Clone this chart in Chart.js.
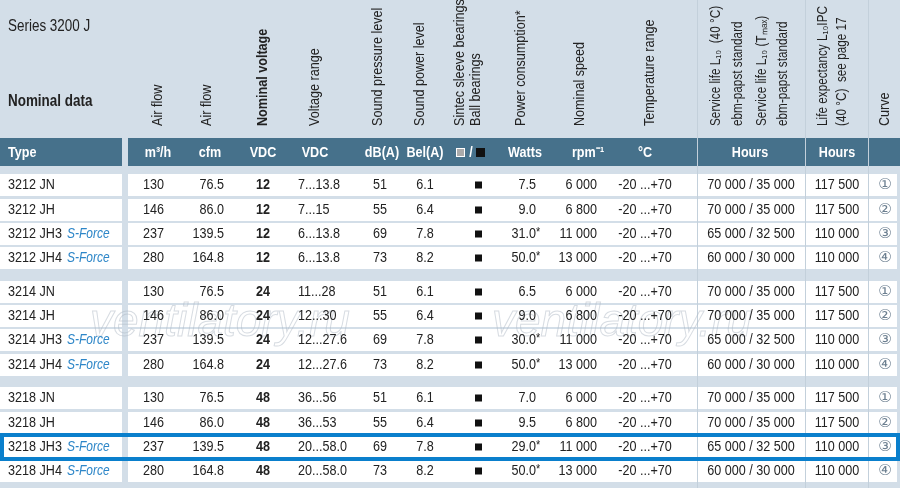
<!DOCTYPE html>
<html><head><meta charset="utf-8">
<script src="https://cdn.jsdelivr.net/npm/chart.js@4"></script>
<style>html,body{margin:0;padding:0;background:#d3dee8;}canvas{display:block}</style>
</head><body>
<canvas id="c" width="900" height="488"></canvas>
<script>
const types = ["3212 JN","3212 JH","3212 JH3","3212 JH4","3214 JN","3214 JH","3214 JH3","3214 JH4","3218 JN","3218 JH","3218 JH3","3218 JH4"];
const sForce = [false,false,true,true,false,false,true,true,false,false,true,true];
const airM3h = [130,146,237,280,130,146,237,280,130,146,237,280];
const airCfm = ["76.5","86.0","139.5","164.8","76.5","86.0","139.5","164.8","76.5","86.0","139.5","164.8"];
const nominalV = [12,12,12,12,24,24,24,24,48,48,48,48];
const voltRange = ["7...13.8","7...15","6...13.8","6...13.8","11...28","12...30","12...27.6","12...27.6","36...56","36...53","20...58.0","20...58.0"];
const dBA = [51,55,69,73,51,55,69,73,51,55,69,73];
const belA = ["6.1","6.4","7.8","8.2","6.1","6.4","7.8","8.2","6.1","6.4","7.8","8.2"];
const watts = ["7.5","9.0","31.0*","50.0*","6.5","9.0","30.0*","50.0*","7.0","9.5","29.0*","50.0*"];
const rpm = ["6 000","6 800","11 000","13 000","6 000","6 800","11 000","13 000","6 000","6 800","11 000","13 000"];
const tempRange = Array(12).fill("-20 ...+70");
const serviceLife = ["70 000 / 35 000","70 000 / 35 000","65 000 / 32 500","60 000 / 30 000","70 000 / 35 000","70 000 / 35 000","65 000 / 32 500","60 000 / 30 000","70 000 / 35 000","70 000 / 35 000","65 000 / 32 500","60 000 / 30 000"];
const lifeExp = ["117 500","117 500","110 000","110 000","117 500","117 500","110 000","110 000","117 500","117 500","110 000","110 000"];
const curve = ["①","②","③","④","①","②","③","④","①","②","③","④"];
const rowY = [185,210,234,258,292,316,340,365,398,423,447,471];
const highlightRow = 10;

const F = '"Liberation Sans",Arial,sans-serif';
const K = 0.84;
function txt(c,t,x,y,align,font,color,k){
  k=k||K; c.save(); c.font=font; c.textAlign='left'; c.textBaseline='middle'; if(color)c.fillStyle=color;
  const w=c.measureText(String(t)).width*k;
  const lx = align==='center'?x-w/2:align==='right'?x-w:x;
  c.translate(lx,y); c.scale(k,1); c.fillText(String(t),0,0); c.restore(); return w;
}
const plugin = {
  id:'tbl',
  afterDraw(ch){
    const c = ch.ctx, xs = ch.scales.x, ys = ch.scales.y;
    const X = v=>xs.getPixelForValue(v), Y = v=>ys.getPixelForValue(v);
    c.save();
    c.fillStyle='#d3dee8'; c.fillRect(X(0),Y(0),X(900)-X(0),Y(488)-Y(0));
    c.fillStyle='#46718b';
    c.fillRect(X(0),Y(138),X(122)-X(0),Y(166)-Y(138));
    c.fillRect(X(128),Y(138),X(900)-X(128),Y(166)-Y(138));
    c.fillStyle='#ffffff';
    rowY.forEach(r=>{
      c.fillRect(X(0),Y(r-11),X(122)-X(0),Y(r+11)-Y(r-11));
      c.fillRect(X(128),Y(r-11),X(897)-X(128),Y(r+11)-Y(r-11));
    });
    c.strokeStyle='#c3d0db'; c.lineWidth=1;
    [697,805,868].forEach(x=>{c.beginPath();c.moveTo(X(x)+0.5,Y(0));c.lineTo(X(x)+0.5,Y(488));c.stroke();});
    // watermark
    c.save(); c.font='italic 46px '+F; c.strokeStyle='rgba(175,186,197,0.5)'; c.lineWidth=1; c.textBaseline='alphabetic';
    c.strokeText('ventilatory.ru',X(90),Y(336)); c.strokeText('ventilatory.ru',X(492),Y(336)); c.restore();
    c.fillStyle='#222';
    txt(c,'Series 3200 J',X(8),Y(27),'left','16px '+F,'#222');
    txt(c,'Nominal data',X(8),Y(102),'left','bold 16px '+F,'#222');
    const rot=(t,x,bold,size)=>{c.save();c.translate(X(x),Y(126));c.rotate(-Math.PI/2);txt(c,t,0,0,'left',(bold?'bold ':'')+(size||15)+'px '+F,'#222');c.restore();};
    rot('Air flow',158);rot('Air flow',207);rot('Nominal voltage',263,true);rot('Voltage range',315);
    rot('Sound pressure level',378);rot('Sound power level',420);rot('Sintec sleeve bearings',460);rot('Ball bearings',476);
    rot('Power consumption*',521);rot('Nominal speed',580);rot('Temperature range',650);
    rot('Service life L₁₀  (40 °C)',716,false,14);rot('ebm-papst standard',738,false,14);
    rot('Service life L₁₀ (Tₘₐₓ)',762,false,14);rot('ebm-papst standard',783,false,14);
    rot('Life expectancy L₁₀IPC',823,false,14);rot('(40 °C)  see page 17',842,false,14);rot('Curve',885);
    const hy=Y(153), hf='bold 15px '+F;
    txt(c,'Type',X(8),hy,'left',hf,'#fff');
    [['m³/h',158],['cfm',210],['VDC',263],['VDC',315],['dB(A)',382],['Bel(A)',425],['Watts',525],['rpm⁻¹',588],['°C',645],['Hours',750],['Hours',837]].forEach(([t,x])=>txt(c,t,X(x),hy,'center',hf,'#fff'));
    c.fillStyle='#aaa'; c.fillRect(X(456),Y(148),X(465)-X(456),Y(157)-Y(148));
    c.strokeStyle='#fff'; c.lineWidth=1; c.strokeRect(X(456)+0.5,Y(148)+0.5,X(465)-X(456)-1,Y(157)-Y(148)-1);
    txt(c,'/',X(471),hy,'center',hf,'#fff');
    c.fillStyle='#111'; c.fillRect(X(476),Y(148),X(485)-X(476),Y(157)-Y(148));
    const bf='15px '+F, col='#222';
    rowY.forEach((r,i)=>{
      const y=Y(r);
      const w=txt(c,types[i],X(8),y,'left',bf,col);
      if(sForce[i]) txt(c,'S-Force',X(8)+w+5,y,'left','italic 15px '+F,'#2d86c8',0.8);
      txt(c,airM3h[i],X(164),y,'right',bf,col); txt(c,airCfm[i],X(224),y,'right',bf,col);
      txt(c,nominalV[i],X(263),y,'center','bold 15px '+F,col);
      txt(c,voltRange[i],X(298),y,'left',bf,col);
      txt(c,dBA[i],X(380),y,'center',bf,col); txt(c,belA[i],X(425),y,'center',bf,col);
      c.fillStyle='#111'; c.fillRect(X(475),y-3.5,7,7);
      const ws=watts[i], star=ws.endsWith('*'), n=star?ws.slice(0,-1):ws;
      txt(c,n,X(536),y,'right',bf,col); if(star) txt(c,'*',X(536),y-2,'left','13px '+F,col);
      txt(c,rpm[i],X(597),y,'right',bf,col);
      txt(c,tempRange[i],X(645),y,'center',bf,col); txt(c,serviceLife[i],X(751),y,'center',bf,col); txt(c,lifeExp[i],X(837),y,'center',bf,col);
      txt(c,curve[i],X(885),y,'center','15px "DejaVu Sans",sans-serif','#6c7f90',1);
    });
    const hr=rowY[highlightRow];
    c.strokeStyle='#0a7fcc'; c.lineWidth=4;
    c.strokeRect(X(2),Y(hr-12),X(898)-X(2),Y(hr+12)-Y(hr-12));
    c.restore();
  }
};
new Chart(document.getElementById('c'),{
  type:'scatter',
  data:{datasets:[{data:rowY.map(r=>({x:885,y:r})),pointRadius:0}]},
  options:{responsive:false,animation:false,devicePixelRatio:1,layout:{padding:0},
    plugins:{legend:{display:false},tooltip:{enabled:false}},
    scales:{x:{type:'linear',min:0,max:900,display:false},y:{type:'linear',min:0,max:488,reverse:true,display:false}}},
  plugins:[plugin]
});
</script></body></html>
